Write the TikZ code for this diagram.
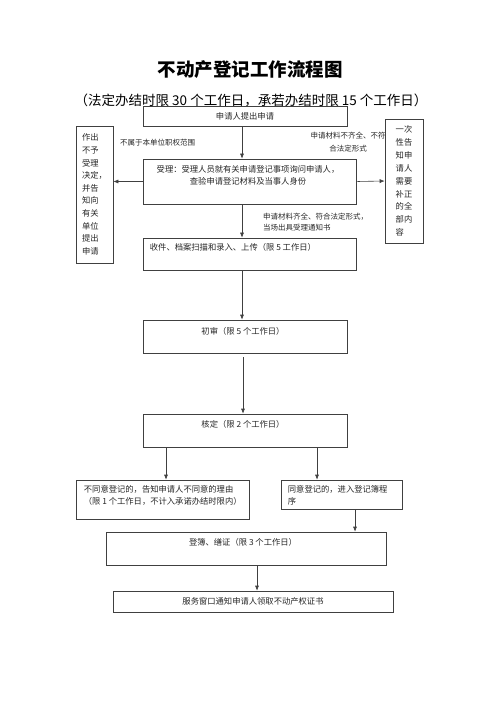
\documentclass[tikz,border=0pt]{standalone}
\usepackage{fontspec}
\setmainfont{Noto Sans CJK SC}
\usetikzlibrary{positioning, arrows.meta}

\begin{document}
\begin{tikzpicture}[x=1pt, y=-1pt,
    box/.style={draw=black!75, line width=0.6pt, fill=white, inner sep=0pt},
    txt/.style={inner sep=0pt, text=black!85, font=\fontsize{8.3}{11.5}\selectfont},
    note/.style={inner sep=0pt, text=black!85, font=\fontsize{7.5}{11}\selectfont},
    arr/.style={draw=black!75, line width=0.6pt, -{Latex[length=5pt, width=4pt]}}]
    \useasboundingbox (0,0) rectangle (500,708);
    \node[inner sep=0pt, font=\bfseries\fontsize{18.5}{20}\selectfont] (title) at (250,70) {不动产登记工作流程图};
    \node[inner sep=0pt, font=\fontsize{13.5}{15}\selectfont] (period) at (251,100) {（法定办结时限 30 个工作日，承若办结时限 15 个工作日）};

    \node[box, txt, minimum width=204pt, minimum height=20pt] (apply) at (245,116) {申请人提出申请};
    \node[box, minimum width=213pt, minimum height=45pt] (accept) at (249.5,181.5) {};
    \node[txt, align=center, below=7pt of accept.north, xshift=-1.5pt] (accepttxt) {受理：受理人员就有关申请登记事项询问申请人，\\查验申请登记材料及当事人身份};
    \node[box, txt, align=left, font=\fontsize{8.3}{12.6}\selectfont, minimum width=37pt, minimum height=137pt] (refuse) at (94.5,194.5) {作出\\不予\\受理\\决定，\\并告\\知向\\有关\\单位\\提出\\申请};
    \node[note, anchor=west] (norights) at (120,143) {不属于本单位职权范围};
    \node[note, align=center, font=\fontsize{7.5}{13}\selectfont] (lackmat) at (348,142.5) {申请材料不齐全、不符\\合法定形式};
    \node[box, txt, align=left, font=\fontsize{8.3}{12.9}\selectfont, minimum width=38pt, minimum height=124pt] (notify) at (404,181) {一次\\性告\\知申\\请人\\需要\\补正\\的全\\部内\\容};
    \node[note, align=left, anchor=north west] (fullmat) at (263,212.5) {申请材料齐全、符合法定形式，\\当场出具受理通知书};

    \node[box, minimum width=213pt, minimum height=32pt] (scan) at (249.5,254) {};
    \node[txt, below right=5pt and 7pt of scan.north west] (scantxt) {收件、档案扫描和录入、上传（限 5 工作日）};
    \node[box, minimum width=204pt, minimum height=33pt] (first) at (245,336.5) {};
    \node[txt, below=7pt of first.north, xshift=-2pt] (firsttxt) {初审（限 5 个工作日）};
    \node[box, minimum width=204pt, minimum height=33pt] (check) at (245,430.5) {};
    \node[txt, below=6pt of check.north, xshift=-2pt] (checktxt) {核定（限 2 个工作日）};

    \node[box, minimum width=173pt, minimum height=39pt] (deny) at (162.5,499.5) {};
    \node[txt, align=left, below right=6pt and 8pt of deny.north west] (denytxt) {不同意登记的，告知申请人不同意的理由\\（限 1 个工作日，不计入承诺办结时限内）};
    \node[box, minimum width=121pt, minimum height=29pt] (agree) at (341.5,494.5) {};
    \node[txt, align=left, below right=6pt and 7pt of agree.north west] (agreetxt) {同意登记的，进入登记簿程\\序};
    \node[box, minimum width=280pt, minimum height=33pt] (register) at (246,548.5) {};
    \node[txt, below=6pt of register.north, xshift=-3pt] (registertxt) {登簿、缮证（限 3 个工作日）};
    \node[box, txt, minimum width=280pt, minimum height=21pt] (final) at (253,601.5) {服务窗口通知申请人领取不动产权证书};

    \coordinate (spine) at (242,0);
    \coordinate (nox) at (166,0);
    \coordinate (yesx) at (317,0);
    \coordinate (regx) at (355,0);
    \coordinate (finx) at (257,0);

    \draw[arr] (apply.south -| spine) -- (accept.north -| spine);
    \draw[arr] (accept.west) -- (accept.west -| refuse.east);
    \draw[arr] ([xshift=1pt]accept.east) -- (notify.west);
    \draw[arr] (accept.south -| spine) -- (scan.north -| spine);
    \draw[arr] (scan.south -| spine) -- (first.north -| spine);
    \draw[arr] ([xshift=-2pt, yshift=-4pt]first.south) -- ([xshift=-2pt]check.north);
    \draw[arr] (check.south -| nox) -- (deny.north -| nox);
    \draw[arr] (check.south -| yesx) -- (agree.north -| yesx);
    \draw[arr] (agree.south -| regx) -- (register.north -| regx);
    \draw[arr] (register.south -| finx) -- (final.north -| finx);
\end{tikzpicture}
\end{document}
